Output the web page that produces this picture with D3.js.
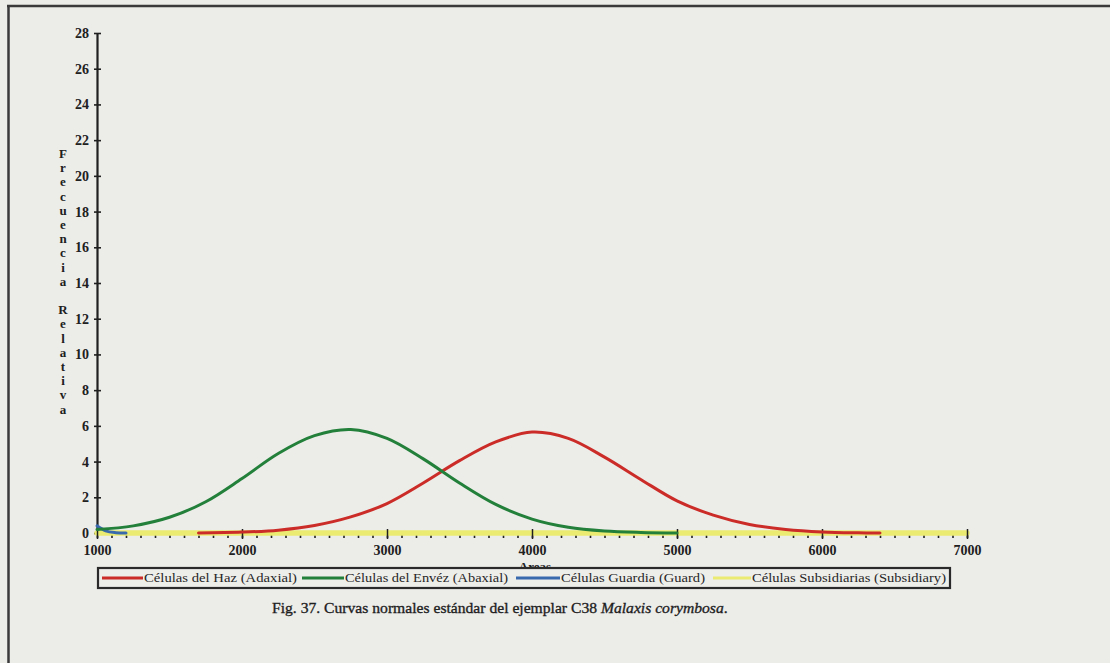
<!DOCTYPE html>
<html>
<head>
<meta charset="utf-8">
<script src="https://cdn.jsdelivr.net/npm/d3@7"></script>
<style>
  html, body { margin: 0; padding: 0; background: #ecece9; }
  svg { display: block; }
  text { font-family: "Liberation Serif", "Times New Roman", Times, serif; }
</style>
</head>
<body>
<svg id="fig" width="1110" height="663"></svg>
<script>
// ---- data -------------------------------------------------------------
const xTicks = [1000, 2000, 3000, 4000, 5000, 6000, 7000];
const yTicks = [0, 2, 4, 6, 8, 10, 12, 14, 16, 18, 20, 22, 24, 26, 28];

// Células del Haz (Adaxial)
const hazAreas = [1700, 2000, 2250, 2500, 2750, 3000, 3250, 3500, 3750, 4000, 4250, 4500, 4750, 5000, 5250, 5500, 5750, 6000, 6250, 6400];
const hazFreq  = [0, 0.05, 0.16, 0.42, 0.9, 1.65, 2.8, 4.05, 5.1, 5.65, 5.3, 4.25, 3.0, 1.8, 1.0, 0.48, 0.2, 0.06, 0.01, 0];

// Células del Envéz (Abaxial)
const envesAreas = [1000, 1250, 1500, 1750, 2000, 2250, 2500, 2750, 3000, 3250, 3500, 3750, 4000, 4250, 4500, 4750, 5000];
const envesFreq  = [0.2, 0.4, 0.88, 1.75, 3.05, 4.45, 5.45, 5.8, 5.3, 4.15, 2.8, 1.6, 0.78, 0.32, 0.11, 0.03, 0];

// Células Guardia (Guard)
const guardAreas = [1000, 1060, 1130, 1200];
const guardFreq  = [0.4, 0.12, 0.02, 0];

// Células Subsidiarias (Subsidiary)
const subsidAreas = [1000, 7000];
const subsidFreq  = [0, 0];

const seriesNames  = ["Células del Haz (Adaxial)", "Células del Envéz (Abaxial)", "Células Guardia (Guard)", "Células Subsidiarias (Subsidiary)"];
const seriesColors = ["#cc2c27", "#22803a", "#3a6aae", "#ebeb72"];

const yTitle = "Frecuencia Relativa";
const xTitle = "Areas";

// ---- drawing ----------------------------------------------------------
const svg = d3.select("#fig");
const ink = "#202020";
const serif = "Liberation Serif, Times New Roman, serif";

// figure frame
svg.append("line").attr("x1", 8.5).attr("x2", 8.5).attr("y1", 5).attr("y2", 663)
  .attr("stroke", "#3a3a3a").attr("stroke-width", 2.5);
svg.append("line").attr("x1", 7).attr("x2", 1110).attr("y1", 6).attr("y2", 6)
  .attr("stroke", "#3a3a3a").attr("stroke-width", 2.5);

const x = d3.scaleLinear().domain([1000, 7000]).range([97, 967]);
const y = d3.scaleLinear().domain([0, 28]).range([533, 33]);

// y axis
const gy = svg.append("g").attr("transform", "translate(97,0)")
  .call(d3.axisLeft(y).tickValues(yTicks).tickSize(3).tickSizeOuter(0).tickPadding(5));
gy.select(".domain").attr("stroke", ink).attr("stroke-width", 2.2);
gy.selectAll(".tick line").attr("x1", 4).attr("stroke", ink).attr("stroke-width", 1.6);
gy.selectAll(".tick text")
  .attr("font-family", serif).attr("font-weight", "bold")
  .attr("font-size", 14).attr("fill", ink);

// y title, one letter per row
const letters = Array.from(yTitle);
svg.append("g").selectAll("text").data(letters).join("text")
  .attr("x", 63).attr("y", (d, i) => 158 + i * 14.2)
  .attr("text-anchor", "middle")
  .attr("font-family", serif)
  .attr("font-weight", "bold").attr("font-size", 13).attr("fill", ink)
  .text(d => d);

// x axis line + minor ticks (under the subsidiary series)
const y0 = y(0);
const gMinor = svg.append("g").attr("transform", `translate(0,${y0})`)
  .call(d3.axisBottom(x).tickValues(d3.range(1000, 7001, 100)).tickSize(5).tickFormat(""));
gMinor.select(".domain").attr("stroke", ink).attr("stroke-width", 1.2);
gMinor.selectAll(".tick line").attr("stroke", ink).attr("stroke-width", 1.6);

// series
const line = d3.line()
  .x(d => x(d[0])).y(d => y(d[1]))
  .curve(d3.curveCatmullRom.alpha(0.5));

function drawSeries(areas, freq, color, width) {
  svg.append("path")
    .datum(areas.map((a, i) => [a, freq[i]]))
    .attr("d", line)
    .attr("fill", "none")
    .attr("stroke", color)
    .attr("stroke-width", width)
    .attr("stroke-linecap", "round")
    .attr("stroke-linejoin", "round");
}

drawSeries(subsidAreas, subsidFreq, seriesColors[3], 5.5);

// major x ticks and labels
const gx = svg.append("g").attr("transform", `translate(0,${y0})`)
  .call(d3.axisBottom(x).tickValues(xTicks).tickSize(6).tickSizeOuter(0).tickFormat(d3.format("d")));
gx.select(".domain").remove();
gx.selectAll(".tick line").attr("y1", -4).attr("stroke", ink).attr("stroke-width", 1.5);
gx.selectAll(".tick text")
  .attr("y", 22).attr("dy", null)
  .attr("font-family", serif).attr("font-weight", "bold")
  .attr("font-size", 14).attr("fill", ink);

drawSeries(guardAreas, guardFreq, seriesColors[2], 3);
drawSeries(hazAreas, hazFreq, seriesColors[0], 3);
drawSeries(envesAreas, envesFreq, seriesColors[1], 3);

// x title (partly tucked under the legend box)
svg.append("text").attr("x", 535).attr("y", 571).attr("text-anchor", "middle")
  .attr("font-family", serif)
  .attr("font-weight", "bold").attr("font-size", 13).attr("fill", ink).text(xTitle);

// legend
const legend = svg.append("g");
legend.append("rect").attr("x", 98).attr("y", 568).attr("width", 852).attr("height", 20)
  .attr("fill", "#ededea").attr("stroke", "#2a2a2a").attr("stroke-width", 2.2);
const legendItems = [
  { line: [102, 143], text: [144, 297] },
  { line: [302, 344], text: [345, 508] },
  { line: [516, 560], text: [561, 705] },
  { line: [713, 751], text: [752, 946] }
];
legendItems.forEach((it, i) => {
  legend.append("line").attr("x1", it.line[0]).attr("x2", it.line[1])
    .attr("y1", 578).attr("y2", 578)
    .attr("stroke", seriesColors[i]).attr("stroke-width", 3);
  legend.append("text").attr("x", it.text[0]).attr("y", 582)
    .attr("font-family", serif)
    .attr("font-size", 13).attr("fill", "#262626")
    .attr("textLength", it.text[1] - it.text[0]).attr("lengthAdjust", "spacingAndGlyphs")
    .text(seriesNames[i]);
});

// caption
const cap = svg.append("text").attr("x", 272).attr("y", 613)
  .attr("font-family", serif)
  .attr("font-size", 14).attr("fill", "#1e1e1e")
  .attr("stroke", "#1e1e1e").attr("stroke-width", 0.35);
cap.append("tspan").text("Fig. 37. Curvas normales estándar del ejemplar C38 ");
cap.append("tspan").attr("font-style", "italic").text("Malaxis corymbosa");
cap.append("tspan").text(".");
const w = cap.node().getComputedTextLength();
cap.attr("font-size", 14 * 456 / w);
</script>
</body>
</html>
